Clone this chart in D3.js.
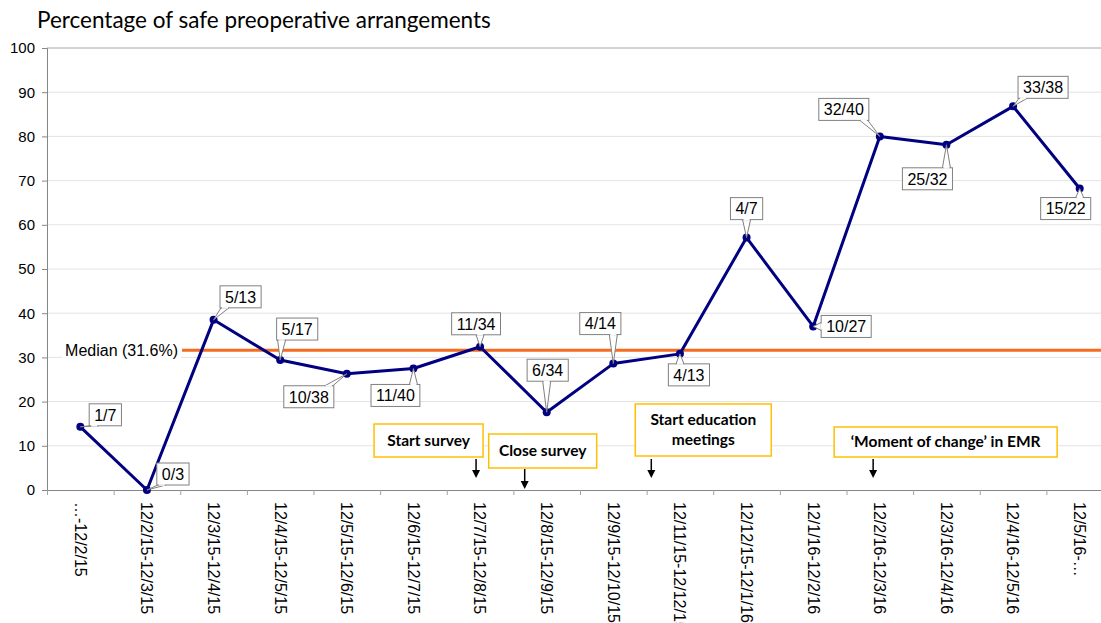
<!DOCTYPE html>
<html>
<head>
<meta charset="utf-8">
<script src="https://cdn.jsdelivr.net/npm/d3@7"></script>
<style>
  body { margin: 0; background: #fff; }
  svg { display: block; }
</style>
</head>
<body>
<div id="chart"></div>
<script>
(() => {
  const categories = [
    "…-12/2/15", "12/2/15-12/3/15", "12/3/15-12/4/15", "12/4/15-12/5/15",
    "12/5/15-12/6/15", "12/6/15-12/7/15", "12/7/15-12/8/15", "12/8/15-12/9/15",
    "12/9/15-12/10/15", "12/11/15-12/12/15", "12/12/15-12/1/16", "12/1/16-12/2/16",
    "12/2/16-12/3/16", "12/3/16-12/4/16", "12/4/16-12/5/16", "12/5/16-…",
  ];
  const values = [14.3, 0, 38.5, 29.4, 26.3, 27.5, 32.4, 17.6, 28.6, 30.8, 57.1, 37.0, 80.0, 78.1, 86.8, 68.2];
  const fractions = ["1/7", "0/3", "5/13", "5/17", "10/38", "11/40", "11/34", "6/34", "4/14", "4/13", "4/7", "10/27", "32/40", "25/32", "33/38", "15/22"];
  const median = 31.6;
  const yTicks = [0, 10, 20, 30, 40, 50, 60, 70, 80, 90, 100];
  const eventLabels = [["Start survey"], ["Close survey"], ["Start education", "meetings"], ["‘Moment of change’ in EMR"]];
  const eventAt = [6.44, 7.17, 9.07, 12.4]; // position along the category axis

  // label placement (box centre offset from point)
  const labelOffsets = [[25, -12], [26, -16], [27, -23], [17, -31], [-38, 23], [-18, 27], [-4, -23], [1, -42],
    [-13, -40], [9, 21], [0, -29], [33, 0], [-36, -27], [-19, 34], [30, -19], [-14, 20]];
  // event box: left offset from arrow, top, width, height, arrow top, arrow tip
  const eventBoxes = [
    { dx: -102, y: 424, w: 109, h: 33, a0: 459, a1: 478 },
    { dx: -36, y: 434, w: 108, h: 34, a0: 469, a1: 489 },
    { dx: -16, y: 404, w: 136, h: 52, a0: 459, a1: 478 },
    { dx: -39, y: 427, w: 223, h: 30, a0: 459, a1: 478 },
  ];

  const width = 1101, height = 623;
  const margin = { top: 48, left: 47, bottom: 133 };
  const plotRight = 1113;

  const svg = d3.select("#chart").append("svg")
    .attr("width", width).attr("height", height)
    .style("font-family", "'Liberation Sans', Arial, sans-serif");

  const x = d3.scaleBand().domain(categories).range([margin.left, plotRight]);
  const xi = d3.scaleLinear().domain([0, categories.length]).range([margin.left, plotRight]);
  const y = d3.scaleLinear().domain([0, 100]).range([height - margin.bottom, margin.top]);
  const cx = (d) => x(d) + x.bandwidth() / 2;

  svg.append("text")
    .attr("x", 37).attr("y", 28)
    .style("font-family", "Lato, 'Open Sans', sans-serif")
    .style("font-size", "22.5px")
    .text("Percentage of safe preoperative arrangements");

  // grid
  svg.append("g").selectAll("line").data(yTicks.filter((t) => t > 0)).enter().append("line")
    .attr("x1", margin.left).attr("x2", plotRight)
    .attr("y1", (d) => y(d)).attr("y2", (d) => y(d))
    .attr("stroke", (d) => (d === 100 ? "#a6a6a6" : "#e3e3e3"))
    .attr("stroke-width", 1);

  // y axis
  const yAxis = svg.append("g")
    .attr("transform", `translate(${margin.left},0)`)
    .call(d3.axisLeft(y).tickValues(yTicks).tickSize(5).tickPadding(7));
  yAxis.select(".domain").attr("stroke", "#868686");
  yAxis.selectAll(".tick line").attr("stroke", "#868686");
  yAxis.selectAll("text").style("font-size", "15px").attr("fill", "#000");

  // x axis
  const xAxis = svg.append("g")
    .attr("transform", `translate(0,${y(0)})`)
    .call(d3.axisBottom(xi).tickValues(d3.range(0, categories.length + 1)).tickSize(5).tickFormat(""));
  xAxis.select(".domain").attr("stroke", "#868686");
  xAxis.selectAll(".tick line").attr("stroke", "#a0a0a0");

  svg.append("g").selectAll("text").data(categories).enter().append("text")
    .attr("transform", (d) => `translate(${cx(d)},${y(0) + 12}) rotate(90)`)
    .attr("dy", "0.35em")
    .style("font-size", "16px")
    .text((d) => d);

  // median
  const medText = svg.append("text")
    .attr("x", 178).attr("y", y(median)).attr("dy", "0.35em")
    .attr("text-anchor", "end")
    .style("font-size", "16px")
    .text(`Median (${median}%)`);
  const mb = medText.node().getBBox();
  svg.insert("rect", () => medText.node())
    .attr("x", mb.x - 3).attr("y", mb.y).attr("width", mb.width + 6).attr("height", mb.height)
    .attr("fill", "#fff");
  svg.append("line")
    .attr("x1", 182).attr("x2", plotRight)
    .attr("y1", y(median)).attr("y2", y(median))
    .attr("stroke", "#f36c21").attr("stroke-width", 3);

  // series
  const pts = values.map((v, i) => [cx(categories[i]), y(v)]);
  svg.append("path")
    .attr("d", d3.line()(pts))
    .attr("fill", "none").attr("stroke", "#000080").attr("stroke-width", 3)
    .attr("stroke-linejoin", "round");
  svg.append("g").selectAll("circle").data(pts).enter().append("circle")
    .attr("cx", (d) => d[0]).attr("cy", (d) => d[1]).attr("r", 4)
    .attr("fill", "#000080");

  // callout labels
  const lg = svg.append("g");
  fractions.forEach((f, i) => {
    const [px, py] = pts[i];
    const g = lg.append("g");
    const t = g.append("text").style("font-size", "16px").attr("text-anchor", "middle").text(f);
    const w = t.node().getComputedTextLength() + 10, h = 22;
    const bx = px + labelOffsets[i][0], by = py + labelOffsets[i][1];
    const l = bx - w / 2, r = bx + w / 2, tp = by - h / 2, bt = by + h / 2;
    let b1, b2;
    if (py > bt || py < tp) {
      const ey = py > bt ? bt : tp;
      const mx = Math.max(l + 5, Math.min(r - 5, px));
      b1 = [mx - 4, ey]; b2 = [mx + 4, ey];
    } else {
      const ex = px < l ? l : r;
      const my = Math.max(tp + 5, Math.min(bt - 5, py));
      b1 = [ex, my - 4]; b2 = [ex, my + 4];
    }
    g.insert("path", "text")
      .attr("d", `M${px},${py}L${b1[0]},${b1[1]}L${b2[0]},${b2[1]}Z`)
      .attr("fill", "#fff").attr("stroke", "#808080").attr("stroke-width", 1);
    g.insert("rect", "text")
      .attr("x", l).attr("y", tp).attr("width", w).attr("height", h)
      .attr("fill", "#fff").attr("stroke", "#808080").attr("stroke-width", 1);
    g.insert("line", "text")
      .attr("x1", b1[0] + (b1[1] === b2[1] ? 1 : 0)).attr("y1", b1[1] + (b1[0] === b2[0] ? 1 : 0))
      .attr("x2", b2[0] - (b1[1] === b2[1] ? 1 : 0)).attr("y2", b2[1] - (b1[0] === b2[0] ? 1 : 0))
      .attr("stroke", "#fff").attr("stroke-width", 1.5);
    t.attr("x", bx).attr("y", by).attr("dy", "0.36em");
  });

  // events
  const eg = svg.append("g");
  eventLabels.forEach((lines, i) => {
    const ax = xi(eventAt[i]);
    const b = eventBoxes[i];
    eg.append("rect")
      .attr("x", ax + b.dx).attr("y", b.y).attr("width", b.w).attr("height", b.h)
      .attr("fill", "#fff").attr("stroke", "#ffc000").attr("stroke-width", 1.5);
    const t = eg.append("text")
      .attr("text-anchor", "middle")
      .style("font-family", "Lato, 'Open Sans', sans-serif")
      .style("font-weight", "bold").style("font-size", "15.5px");
    const lh = 20;
    lines.forEach((s, j) => {
      t.append("tspan")
        .attr("x", ax + b.dx + b.w / 2)
        .attr("y", b.y + b.h / 2 + (j - (lines.length - 1) / 2) * lh)
        .attr("dy", "0.35em")
        .text(s);
    });
    eg.append("line")
      .attr("x1", ax).attr("x2", ax).attr("y1", b.a0).attr("y2", b.a1 - 7)
      .attr("stroke", "#000").attr("stroke-width", 1.5);
    eg.append("path")
      .attr("d", `M${ax - 4},${b.a1 - 8}L${ax + 4},${b.a1 - 8}L${ax},${b.a1}Z`)
      .attr("fill", "#000");
  });
})();
</script>
</body>
</html>
